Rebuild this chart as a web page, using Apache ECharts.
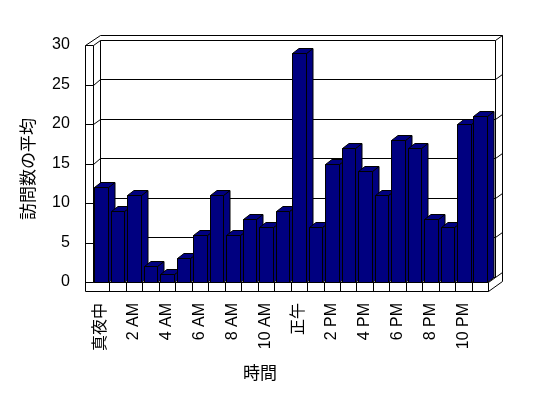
<!DOCTYPE html>
<html>
<head>
<meta charset="utf-8">
<script src="https://cdn.jsdelivr.net/npm/echarts@6/dist/echarts.min.js"></script>
<style>html,body{margin:0;padding:0;background:#fff;}#c{width:548px;height:398px;}</style>
</head>
<body>
<div id="c"></div>
<script>
const hours = ['真夜中','1 AM','2 AM','3 AM','4 AM','5 AM','6 AM','7 AM','8 AM','9 AM','10 AM','11 AM',
  '正午','1 PM','2 PM','3 PM','4 PM','5 PM','6 PM','7 PM','8 PM','9 PM','10 PM','11 PM'];
const visits = [12,9,11,2,1,3,6,11,6,8,7,9,29,7,15,17,14,11,18,17,8,7,20,21];
const yMin = 0, yMax = 30, yStep = 5;
const xName = '時間';
const yName = '訪問数の平均';

const FONT = '"Liberation Sans", "Noto Sans CJK JP", sans-serif';
const NAVY = '#000080';
const px = v => Math.round(v) + 0.5;

function line(x1, y1, x2, y2) {
  return { type: 'line', shape: { x1: px(x1), y1: px(y1), x2: px(x2), y2: px(y2) },
    style: { stroke: '#000', lineWidth: 1 } };
}

function renderFrame(params, api) {
  const bw = api.size([1, 0])[0];
  const c0 = api.coord([0, yMin]);
  const cT = api.coord([0, yMax]);
  const xL = c0[0] - bw / 2;
  const xR = xL + bw * hours.length;
  const y0 = c0[1], yT = cT[1];
  const D = [7, -5.5];      // depth offset of back wall
  const t = 8;              // left wall thickness
  const F = 9;              // floor thickness
  const T = [6.5, -5];      // back wall thickness
  const ch = [];
  // gridlines (left wall tick, left inner face, back wall, right edge)
  for (let v = yMin; v <= yMax; v += yStep) {
    const y = api.coord([0, v])[1];
    ch.push(line(xL - t, y, xL, y));
    ch.push(line(xL, y, xL + D[0], y + D[1]));
    ch.push(line(xL + D[0], y + D[1], xR + D[0], y + D[1]));
    ch.push(line(xR + D[0], y + D[1], xR + D[0] + T[0], y + D[1] + T[1]));
  }
  // left wall
  ch.push(line(xL - t, yT, xL - t, y0 + F));
  ch.push(line(xL, yT, xL, y0));
  ch.push(line(xL - t, yT, xL + D[0], yT + D[1] + T[1]));
  // back wall
  ch.push(line(xL + D[0], yT + D[1] + T[1], xR + D[0] + T[0], yT + D[1] + T[1]));
  ch.push(line(xL + D[0], yT + D[1], xL + D[0], y0 + D[1]));
  ch.push(line(xR + D[0], yT + D[1], xR + D[0], y0 + D[1]));
  ch.push(line(xR + D[0] + T[0], yT + D[1] + T[1], xR + D[0] + T[0], y0 + F - 10));
  // floor
  ch.push(line(xL - t, y0 + F, xR, y0 + F));
  ch.push(line(xL, y0, xR, y0));
  ch.push(line(xR, y0, xR, y0 + F));
  ch.push(line(xR, y0, xR + D[0], y0 + D[1]));
  ch.push(line(xR, y0 + F, xR + D[0] + T[0], y0 + F - 10));
  for (let i = 1; i < hours.length; i++) {
    const x = xL + i * bw;
    ch.push(line(x, y0, x, y0 + F));
  }
  return { type: 'group', children: ch };
}

function renderBar(params, api) {
  const i = api.value(0), v = api.value(1);
  const top = api.coord([i, v]);
  const base = api.coord([i, yMin]);
  const bw = api.size([1, 0])[0];
  const xl = Math.round(top[0] - 0.4 * bw) + 0.5;
  const xr = Math.round(top[0] + 0.42 * bw) + 0.5;
  const yt = Math.round(top[1]) + 0.5;
  const yb = Math.round(base[1]) + 0.5;
  const dx = 6.5, dy = -5;
  const st = { fill: NAVY, stroke: '#000', lineWidth: 1 };
  return {
    type: 'group',
    children: [
      { type: 'polygon', shape: { points: [[xl, yt], [xr, yt], [xr, yb], [xl, yb]] }, style: st },
      { type: 'polygon', shape: { points: [[xr, yt], [xr + dx, yt + dy], [xr + dx, yb + dy], [xr, yb]] }, style: st },
      { type: 'polygon', shape: { points: [[xl, yt], [xl + dx, yt + dy], [xr + dx, yt + dy], [xr, yt]] }, style: st }
    ]
  };
}

const chart = echarts.init(document.getElementById('c'), null, { renderer: 'canvas' });
chart.setOption({
  backgroundColor: '#fff',
  animation: false,
  grid: { left: 92.8, top: 45, width: 395.5, height: 237 },
  xAxis: {
    type: 'category',
    data: hours,
    boundaryGap: true,
    axisLine: { show: false },
    axisTick: { show: false },
    splitLine: { show: false },
    axisLabel: { interval: 1, rotate: 90, margin: 21, color: '#000', fontSize: 16, fontFamily: FONT },
    name: xName,
    nameLocation: 'middle',
    nameGap: 84,
    nameTextStyle: { color: '#000', fontSize: 17, fontFamily: FONT, padding: [0, 61, 0, 0] }
  },
  yAxis: {
    type: 'value',
    min: yMin, max: yMax, interval: yStep,
    axisLine: { show: false },
    axisTick: { show: false },
    splitLine: { show: false },
    axisLabel: { margin: 23, color: '#000', fontSize: 16, fontFamily: FONT },
    name: yName,
    nameLocation: 'middle',
    nameGap: 55,
    nameTextStyle: { color: '#000', fontSize: 17, fontFamily: FONT, padding: [0, 11, 0, 0] }
  },
  series: [
    { type: 'custom', clip: false, renderItem: renderFrame, data: [[0, 0]], z: 1, silent: true },
    { type: 'custom', clip: false, renderItem: renderBar, data: visits.map((v, i) => [i, v]), z: 2 }
  ]
});
</script>
</body>
</html>
